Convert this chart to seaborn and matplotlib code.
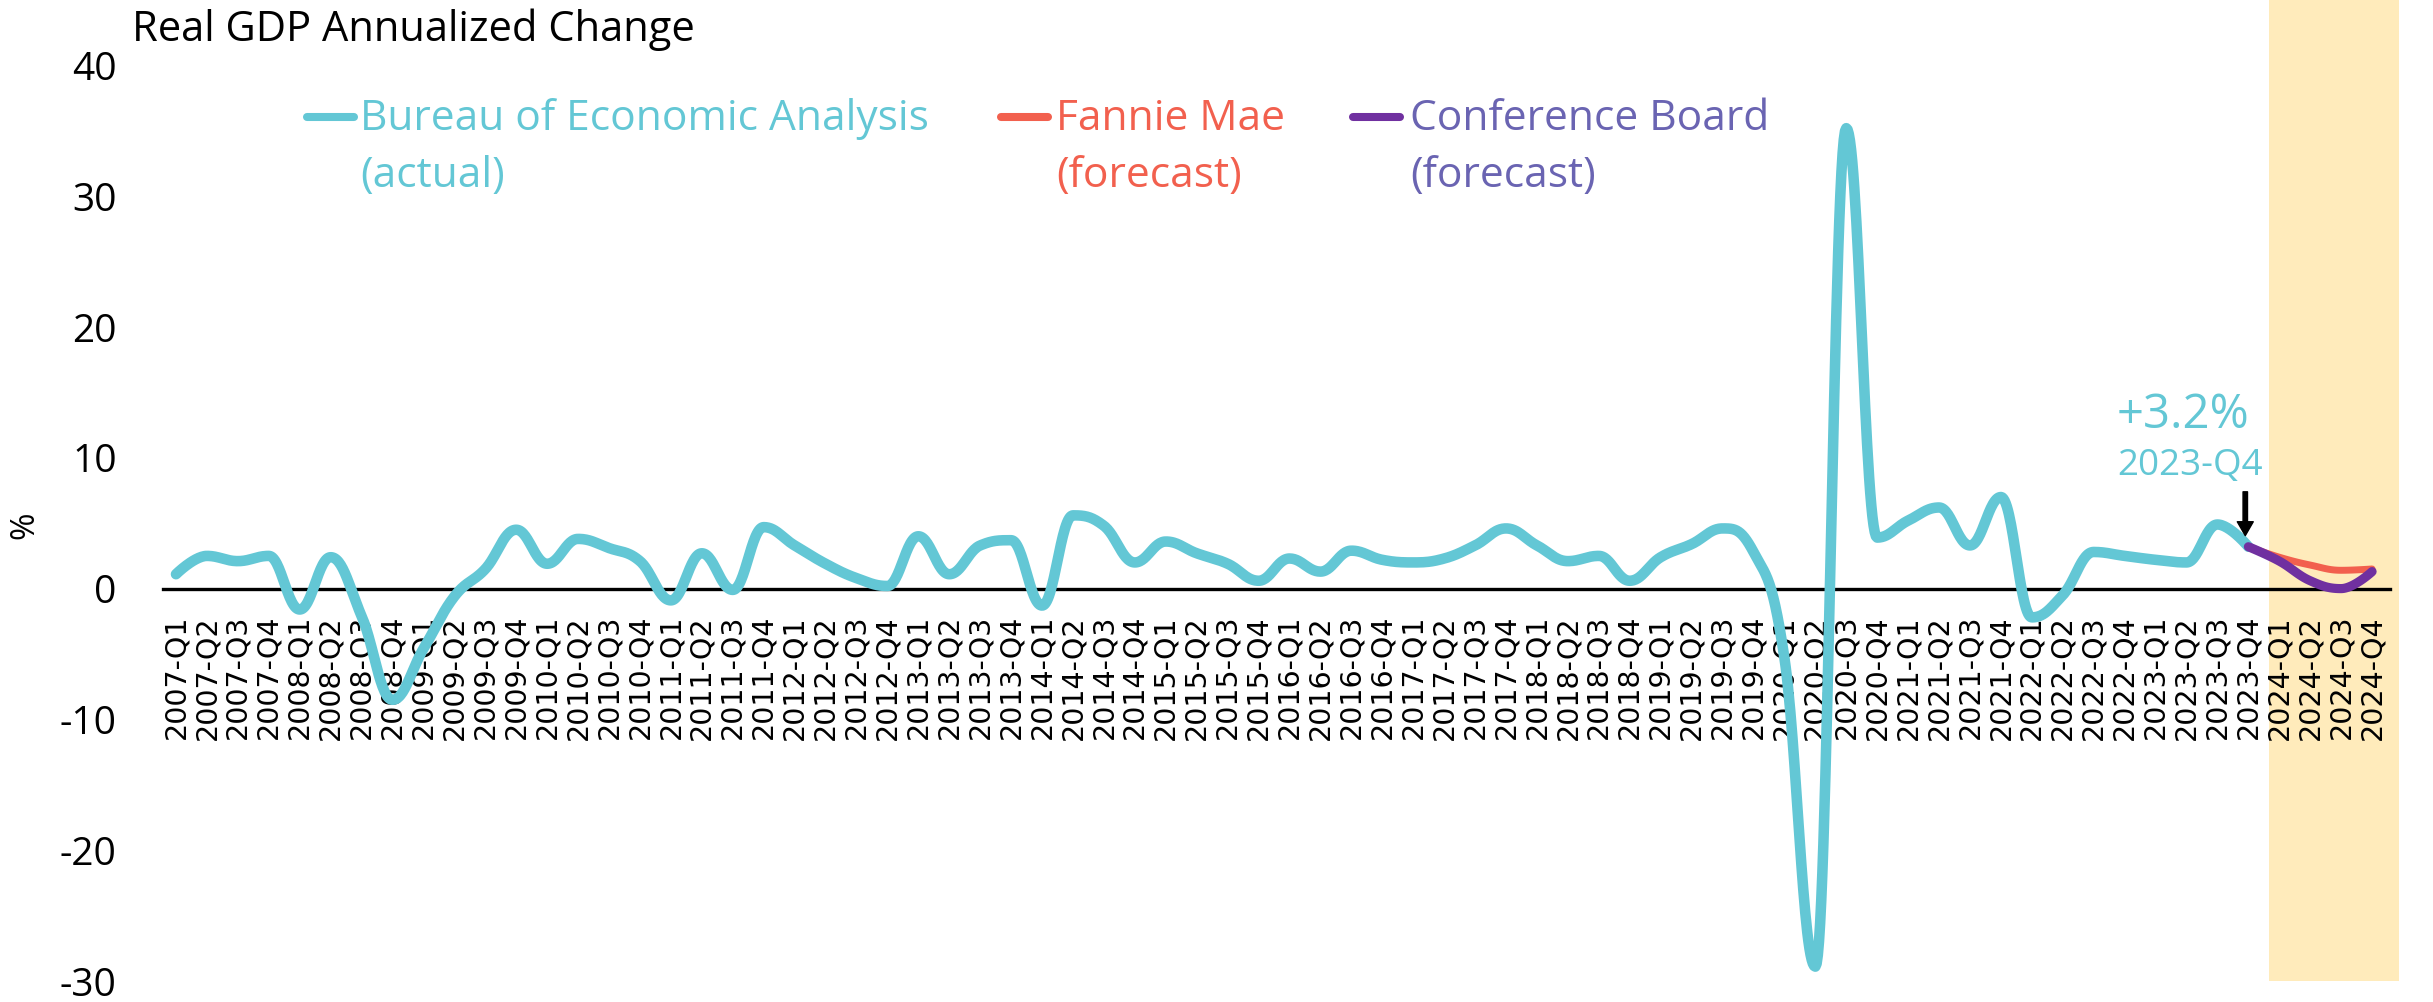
import numpy as np
import matplotlib
matplotlib.use("Agg")
import matplotlib.pyplot as plt
from matplotlib.lines import Line2D
import seaborn as sns

# ---- data -------------------------------------------------------------
quarters = [f"{y}-Q{q}" for y in range(2007, 2025) for q in range(1, 5)]

bea_actual = [
    1.1, 2.5, 2.1, 2.5,        # 2007
    -1.6, 2.4, -2.1, -8.5,     # 2008
    -4.6, -0.6, 1.5, 4.5,      # 2009
    1.9, 3.8, 3.1, 2.1,        # 2010
    -0.9, 2.7, -0.1, 4.7,      # 2011
    3.3, 1.9, 0.8, 0.2,        # 2012
    4.0, 1.1, 3.3, 3.7,        # 2013
    -1.3, 5.6, 4.8, 2.0,       # 2014
    3.6, 2.7, 1.9, 0.6,        # 2015
    2.3, 1.3, 2.9, 2.2,        # 2016
    2.0, 2.3, 3.3, 4.6,        # 2017
    3.3, 2.1, 2.5, 0.6,        # 2018
    2.4, 3.4, 4.6, 2.8,        # 2019
    -5.3, -28.9, 35.2, 3.9,    # 2020
    5.2, 6.2, 3.3, 7.0,        # 2021
    -2.2, -0.5, 2.8, 2.5,      # 2022
    2.2, 2.0, 4.9, 3.2,        # 2023
]
# forecasts start from the last actual quarter (2023-Q4)
fannie_mae = [3.2, 2.4, 1.8, 1.4, 1.5]
conference_board = [3.2, 2.1, 0.6, 0.0, 1.3]

series_names = ["Bureau of Economic Analysis", "Fannie Mae", "Conference Board"]
series_notes = ["(actual)", "(forecast)", "(forecast)"]
y_ticks = [-30, -20, -10, 0, 10, 20, 30, 40]

# ---- colours ----------------------------------------------------------
CYAN = "#63C7D5"
RED = "#F2604E"
PURPLE = "#7030A0"
PURPLE_TXT = "#6A64B2"
BAND = "#FFEBBB"


def highcharts_spline(xs, ys, smoothing=1.5, steps=30):
    """Smooth curve through the points using bezier segments whose control
    points never overshoot the neighbouring values."""
    xs = np.asarray(xs, float)
    ys = np.asarray(ys, float)
    n = len(xs)
    left = np.zeros((n, 2))
    right = np.zeros((n, 2))
    d = smoothing + 1.0
    for i in range(n):
        x, y = xs[i], ys[i]
        if i == 0 or i == n - 1:
            left[i] = right[i] = (x, y)
            continue
        px, py = xs[i - 1], ys[i - 1]
        nx, ny = xs[i + 1], ys[i + 1]
        lx, ly = (smoothing * x + px) / d, (smoothing * y + py) / d
        rx, ry = (smoothing * x + nx) / d, (smoothing * y + ny) / d
        if rx != lx:
            corr = ((ry - ly) * (rx - x)) / (rx - lx) + y - ry
            ly += corr
            ry += corr
        if ly > py and ly > y:
            ly = max(py, y); ry = 2 * y - ly
        elif ly < py and ly < y:
            ly = min(py, y); ry = 2 * y - ly
        if ry > ny and ry > y:
            ry = max(ny, y); ly = 2 * y - ry
        elif ry < ny and ry < y:
            ry = min(ny, y); ly = 2 * y - ry
        left[i] = (lx, ly)
        right[i] = (rx, ry)
    t = np.linspace(0, 1, steps)[:, None]
    out = [np.array([[xs[0], ys[0]]])]
    for i in range(1, n):
        p0 = np.array([xs[i - 1], ys[i - 1]])
        p1 = right[i - 1]
        p2 = left[i]
        p3 = np.array([xs[i], ys[i]])
        seg = ((1 - t) ** 3) * p0 + 3 * ((1 - t) ** 2) * t * p1 \
            + 3 * (1 - t) * t ** 2 * p2 + t ** 3 * p3
        out.append(seg[1:])
    pts = np.vstack(out)
    return pts[:, 0], pts[:, 1]


# ---- figure -----------------------------------------------------------
sns.set_theme(style="white")
plt.rcParams["font.family"] = ["Open Sans", "DejaVu Sans"]

W, H = 2433, 1002
fig = plt.figure(figsize=(W / 100, H / 100), dpi=100)
ax = fig.add_axes([162.7 / W, 21 / H, (2399 - 162.7) / W, 981 / H])

x_min, x_max = -0.43, 71.87
ax.set_xlim(x_min, x_max)
ax.set_ylim(-30, 45)

# 2024 forecast window
ax.axvspan(67.67, x_max, color=BAND, lw=0, zorder=0)

n_act = len(bea_actual)
x_act = np.arange(n_act)
x_fc = np.arange(n_act - 1, n_act - 1 + len(fannie_mae))

sx, sy = highcharts_spline(x_act, bea_actual)
sns.lineplot(x=sx, y=sy, ax=ax, color=CYAN, linewidth=7.6, sort=False,
             estimator=None, legend=False, zorder=3,
             solid_capstyle="round", solid_joinstyle="round")
fx, fy = highcharts_spline(x_fc, fannie_mae)
sns.lineplot(x=fx, y=fy, ax=ax, color=RED, linewidth=5.0, sort=False,
             estimator=None, legend=False, zorder=4,
             solid_capstyle="round", solid_joinstyle="round")
cx, cy = highcharts_spline(x_fc, conference_board)
sns.lineplot(x=cx, y=cy, ax=ax, color=PURPLE, linewidth=6.6, sort=False,
             estimator=None, legend=False, zorder=5,
             solid_capstyle="round", solid_joinstyle="round")

# axes: zero line carries the quarter labels
for side in ["left", "right", "top"]:
    ax.spines[side].set_visible(False)
ax.spines["bottom"].set_position(("data", 0))
ax.spines["bottom"].set_bounds(x_min, 71.58)
ax.spines["bottom"].set_color("black")
ax.spines["bottom"].set_linewidth(2.4)
ax.spines["bottom"].set_zorder(2)

ax.set_xticks(range(len(quarters)))
ax.set_xticklabels(quarters, rotation=90, fontsize=20.5,
                   family=["DejaVu Sans"], color="black")
ax.tick_params(axis="x", length=0, pad=19)
ax.set_yticks(y_ticks)
ax.set_yticklabels([str(v) for v in y_ticks], fontsize=28, color="black")
ax.tick_params(axis="y", length=0, pad=33)
ax.grid(False)
ax.set_xlabel("")
ax.set_ylabel("")

# titles
fig.text(132 / W, 1 - 41 / H, "Real GDP Annualized Change", fontsize=30,
         color="black", va="baseline", ha="left")
fig.text(25 / W, 1 - 525 / H, "%", fontsize=24, rotation=90,
         color="black", va="center", ha="center")

# legend
legend_items = [
    (302, 360, CYAN, CYAN),
    (996, 1056, RED, RED),
    (1348, 1410, PURPLE, PURPLE_TXT),
]
for (hx, tx, lcol, tcol), name, note in zip(legend_items, series_names, series_notes):
    fig.add_artist(Line2D([(hx + 5) / W, (hx + 52) / W], [1 - 117 / H, 1 - 117 / H],
                          transform=fig.transFigure, color=lcol, lw=5.8,
                          solid_capstyle="round"))
    fig.text(tx / W, 1 - 130 / H, name, fontsize=30.6, color=tcol,
             va="baseline", ha="left")
    fig.text(tx / W, 1 - 187 / H, note, fontsize=30.6, color=tcol,
             va="baseline", ha="left")

# latest actual value callout
last_i = n_act - 1
last_v = bea_actual[-1]
ax.text(62.75, 12.28, f"+{last_v:.1f}%", fontsize=34, color=CYAN,
        ha="left", va="baseline", zorder=6)
ax.text(62.75, 8.68, quarters[last_i], fontsize=26.5, color=CYAN,
        ha="left", va="baseline", zorder=6)
ax.annotate("", xy=(last_i - 0.1, last_v + 0.85), xytext=(last_i - 0.1, 7.4),
            arrowprops=dict(facecolor="black", edgecolor="black", width=3.2,
                            headwidth=11.5, headlength=10, shrink=0),
            zorder=6)

fig.savefig("out.png", dpi=100)
